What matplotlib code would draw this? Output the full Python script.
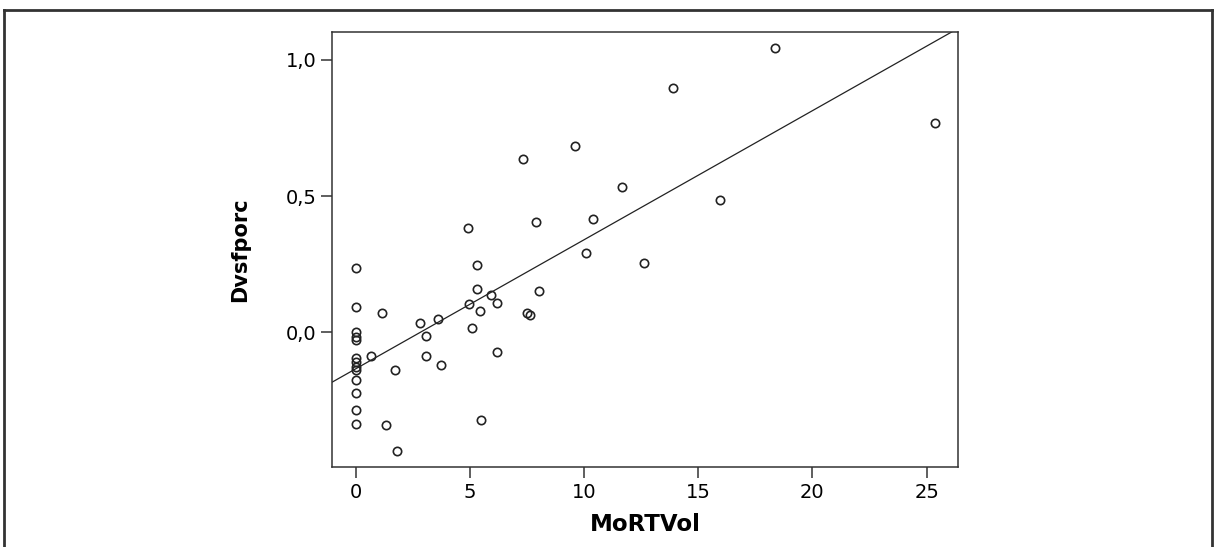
import numpy as np
import matplotlib
matplotlib.use("Agg")
import matplotlib.pyplot as plt
from matplotlib.lines import Line2D
from matplotlib.ticker import FuncFormatter

# values
mortvol = [0, 0, 0, 0, 0, 0, 0, 0, 0, 0, 0, 0, 0,
           0.68, 1.15, 1.32, 1.72, 1.82, 2.84, 3.09, 3.09, 3.60, 3.74,
           4.93, 4.98, 5.10, 5.31, 5.32, 5.44, 5.48, 5.93, 6.18, 6.18,
           7.32, 7.50, 7.64, 7.89, 8.02, 9.61, 10.09, 10.41, 11.67, 12.63,
           13.91, 15.96, 18.38, 25.39]
dvsfporc = [0.235, 0.094, 0.002, -0.018, -0.026, -0.095, -0.108, -0.126,
            -0.138, -0.173, -0.220, -0.284, -0.334,
            -0.087, 0.070, -0.338, -0.138, -0.436, 0.035, -0.012, -0.087,
            0.049, -0.118, 0.384, 0.105, 0.015, 0.158, 0.248, 0.078, -0.322,
            0.138, 0.109, -0.071, 0.635, 0.070, 0.065, 0.404, 0.151, 0.682,
            0.290, 0.415, 0.533, 0.256, 0.896, 0.486, 1.043, 0.768]

x_ticks = [0, 5, 10, 15, 20, 25]
y_ticks = [0.0, 0.5, 1.0]

x = np.array(mortvol)
y = np.array(dvsfporc)

fig = plt.figure(figsize=(12.14, 5.47), dpi=100)
ax = fig.add_axes([0.2735, 0.1457, 0.5157, 0.7958])

ax.plot(x, y, linestyle="none", marker="o", markersize=6,
        markerfacecolor="none", markeredgecolor="#222222", markeredgewidth=1.2)

# least squares fit line across the whole axis
slope, intercept = np.polyfit(x, y, 1)
xmin, xmax = -1.03, 26.38
xl = np.array([xmin, xmax])
ax.plot(xl, intercept + slope * xl, color="#222222", linewidth=0.9)

ax.set_xlim(xmin, xmax)
ax.set_ylim(-0.494, 1.101)
ax.set_xticks(x_ticks)
ax.set_yticks(y_ticks)
ax.yaxis.set_major_formatter(FuncFormatter(lambda v, p: f"{v:.1f}".replace(".", ",")))

for s in ax.spines.values():
    s.set_color("#333333")
    s.set_linewidth(1.1)
ax.tick_params(length=8, width=1.1, color="#333333", labelsize=14, pad=3)

ax.set_xlabel("MoRTVol", fontsize=16.5, fontweight="bold", labelpad=8)
ax.set_ylabel("Dvsfporc", fontsize=15, fontweight="bold", labelpad=26)

# outer frame (bottom edge cut off in the reference)
fw, fh = 1214, 547
kw = dict(color="#333333", linewidth=2, transform=fig.transFigure)
fig.add_artist(Line2D([4 / fw, 4 / fw], [0, 1 - 10 / fh], **kw))
fig.add_artist(Line2D([4 / fw, 1212 / fw], [1 - 10 / fh, 1 - 10 / fh], **kw))
fig.add_artist(Line2D([1212 / fw, 1212 / fw], [0, 1 - 10 / fh], **kw))

fig.savefig("out.png", dpi=100)
